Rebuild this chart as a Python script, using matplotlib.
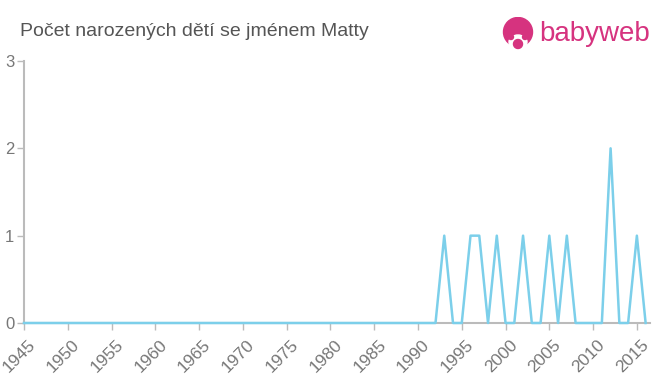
import matplotlib
matplotlib.use("Agg")
import matplotlib.pyplot as plt
from matplotlib.patches import Circle, Ellipse

years = list(range(1945, 2017))
nonzero = {1993: 1, 1996: 1, 1997: 1, 1999: 1, 2002: 1, 2005: 1, 2007: 1, 2012: 2, 2015: 1}
counts = [nonzero.get(y, 0) for y in years]
xticks = list(range(1945, 2016, 5))
yticks = [0, 1, 2, 3]
title = "Počet narozených dětí se jménem Matty"

plt.rcParams['font.family'] = ['Liberation Sans', 'DejaVu Sans']
fig = plt.figure(figsize=(6.6, 3.75), dpi=100)
ax = fig.add_axes([24/660, 1 - 323/375, (650-24)/660, (323-61)/375])
ax.plot(years, counts, color='#7ccfea', lw=1.8, clip_on=False, zorder=3)
ax.set_xlim(1945, 2016.5)
ax.set_ylim(0, 3)
ax.set_xticks(xticks)
ax.set_xticklabels([str(x) for x in xticks], rotation=45, ha='right', va='top',
                   rotation_mode='anchor', fontsize=12.5, color='#777777')
ax.set_yticks(yticks)
ax.set_yticklabels([str(y) for y in yticks], fontsize=12, color='#777777')
for s in ['top', 'right']:
    ax.spines[s].set_visible(False)
for s in ['left', 'bottom']:
    ax.spines[s].set_color('#bbbbbb')
    ax.spines[s].set_linewidth(1.5)
ax.tick_params(axis='both', colors='#bbbbbb', labelcolor='#777777', length=5, width=1)
ax.tick_params(axis='x', pad=5)
ax.tick_params(axis='y', pad=2)
for lbl in ax.get_xticklabels():
    lbl.set_x(lbl.get_position()[0])
from matplotlib.transforms import ScaledTranslation
off = ScaledTranslation(4/100, 0, fig.dpi_scale_trans)
for lbl in ax.get_xticklabels():
    lbl.set_transform(lbl.get_transform() + off)

fig.text(20/660, 1 - 32/375, title, fontsize=14, color='#555555', va='center', ha='left')

# logo
pink = '#d6337f'
ax_logo = fig.add_axes([502/660, 1 - 51/375, 32/660, 34/375])
ax_logo.set_xlim(0, 32); ax_logo.set_ylim(0, 34); ax_logo.axis('off')
ax_logo.set_aspect('equal')
ax_logo.add_patch(Circle((16, 19), 14.5, color=pink))
ax_logo.add_patch(Ellipse((16, 9), 18, 14, color='white'))
ax_logo.add_patch(Circle((16, 7), 4.5, color=pink))
ax_logo.add_patch(Circle((9, 14), 2.5, color=pink))
ax_logo.add_patch(Circle((23, 14), 2.5, color=pink))
fig.text(539/660, 1 - 34/375, 'babyweb', fontsize=20, color=pink, va='center', ha='left')

fig.savefig('out.png', dpi=100)
